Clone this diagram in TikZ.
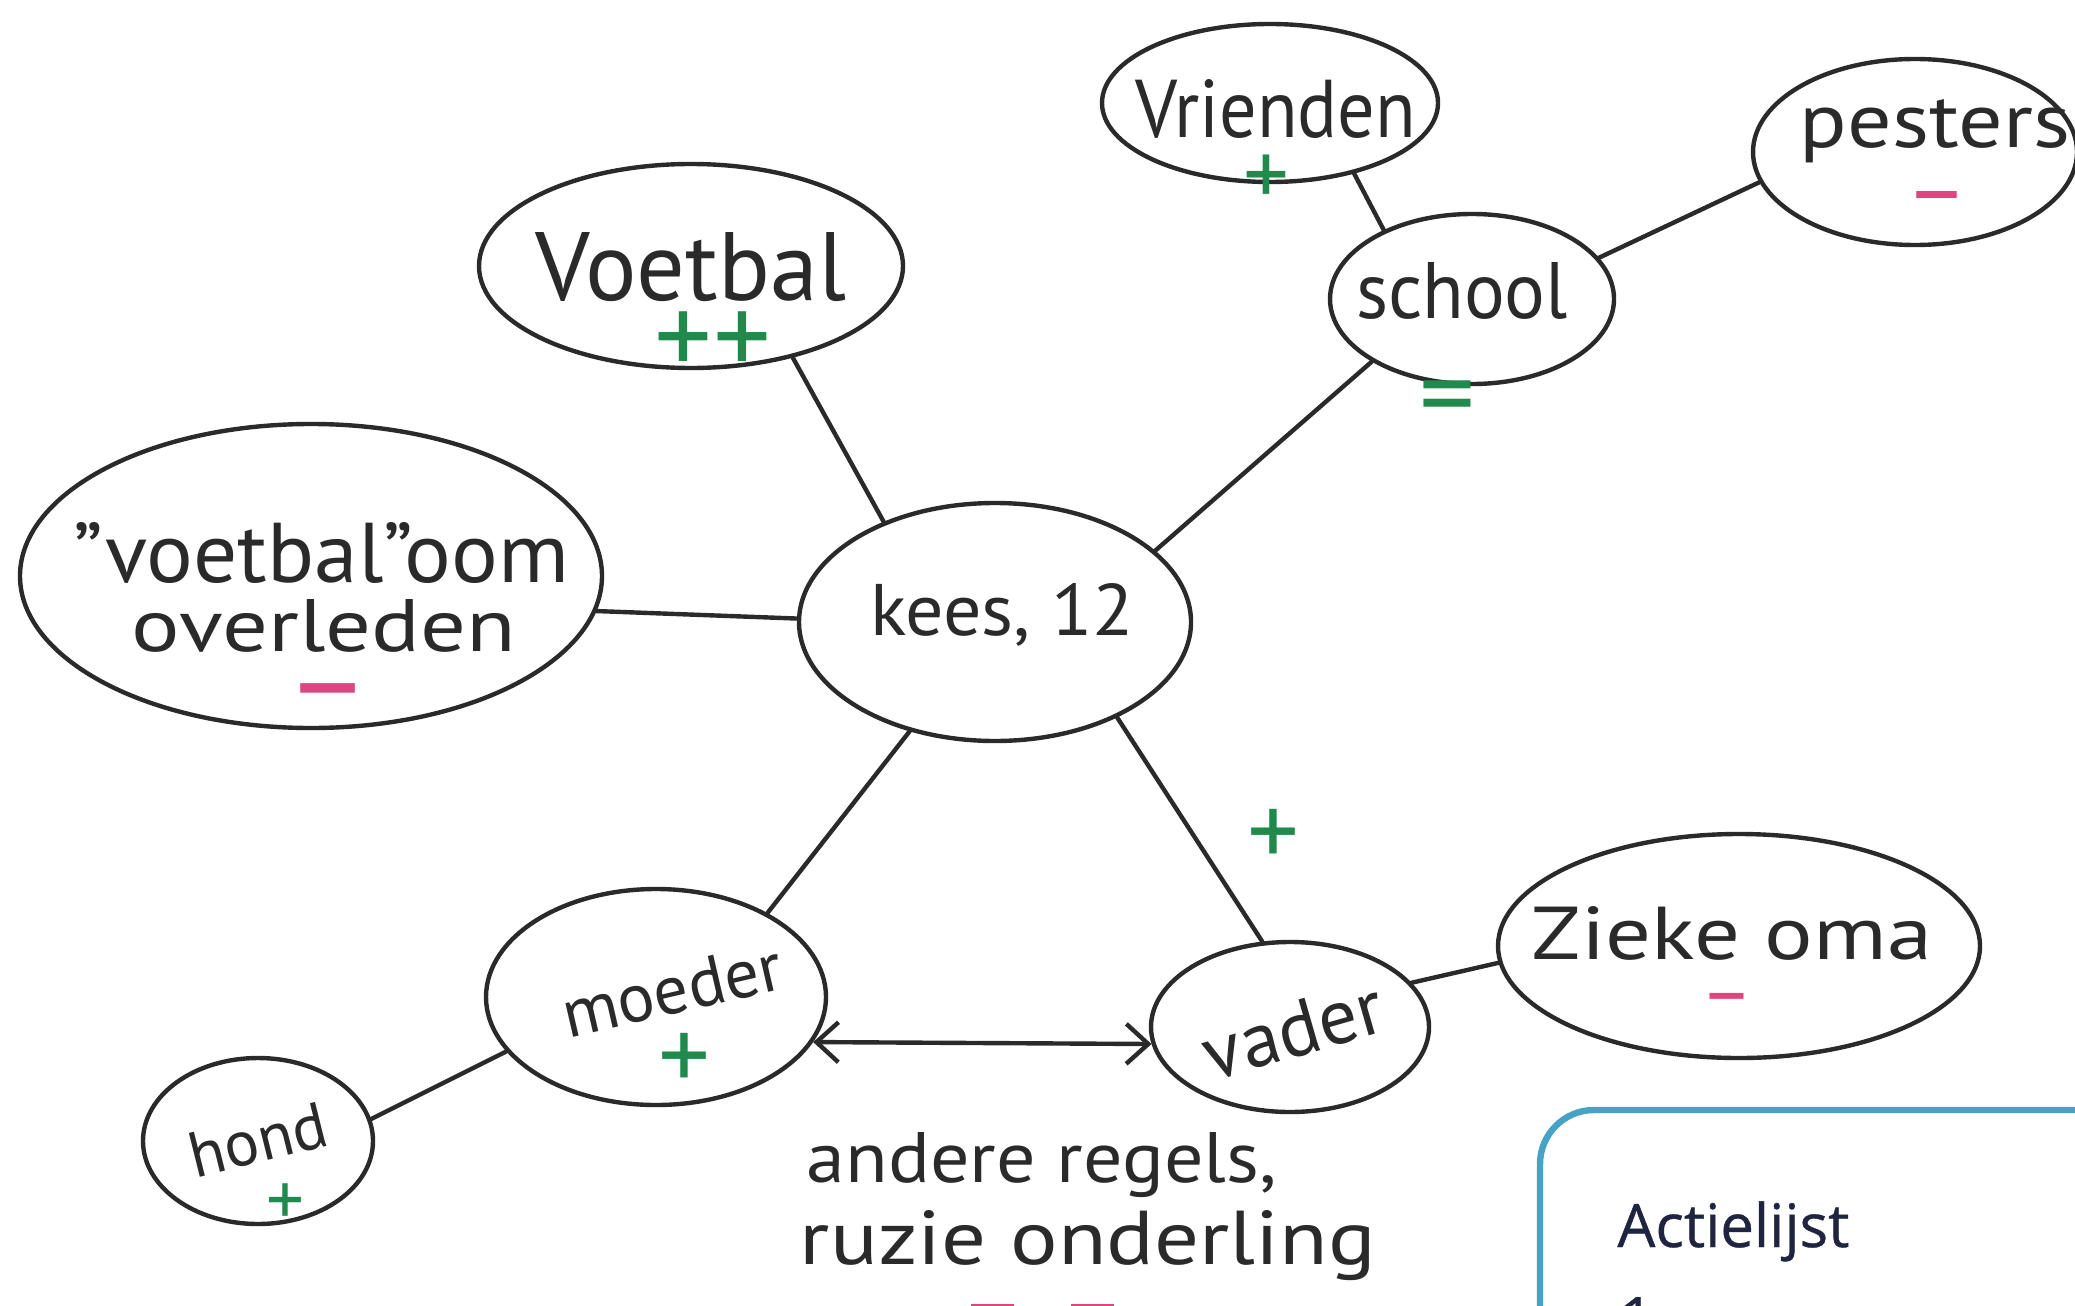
\documentclass[tikz,border=0pt]{standalone}
\usepackage{fontspec}
\setmainfont{PT Sans}
\newfontfamily\uifont[FakeBold=0.6]{Open Sans}
\usetikzlibrary{shapes.geometric,arrows.meta}
\definecolor{ink}{HTML}{2A2A2A}
\definecolor{pgreen}{HTML}{1F8A4C}
\definecolor{ppink}{HTML}{E0457F}
\definecolor{uiblue}{HTML}{47A3C6}
\definecolor{uinavy}{HTML}{1F2541}
\newcommand{\hw}[2]{\resizebox{#1pt}{!}{#2}}
\newcommand{\hwh}[3]{\resizebox{#1pt}{#2pt}{#3}}
\begin{document}
\begin{tikzpicture}[x=0.5pt,y=-0.5pt,
  bubble/.style={ellipse, draw=ink, line width=2.2pt, inner sep=0pt},
  link/.style={draw=ink, line width=2.2pt, line cap=round},
  twoway/.style={{Straight Barb[length=11pt,width=20pt]}-{Straight Barb[length=11pt,width=20pt]}},
  hand/.style={text=ink, inner sep=0pt, anchor=base},
  plusmark/.style={text=pgreen, inner sep=0pt},
  minusmark/.style={text=ppink, inner sep=0pt, anchor=base},
  uitext/.style={text=uinavy, anchor=base west, inner sep=0pt, font=\uifont\fontsize{30}{36}\selectfont}
]
\useasboundingbox (0,0) rectangle (2075,1305);
\clip (0,0) rectangle (2075,1305);

% bubbles
\node[bubble, minimum width=196pt, minimum height=119pt] (kees) at (995,622) {};
\node[bubble, minimum width=212pt, minimum height=102pt] (voetbal) at (691,266) {};
\node[bubble, minimum width=168pt, minimum height=79pt] (vrienden) at (1270,103) {};
\node[bubble, minimum width=162pt, minimum height=93pt] (pesters) at (1915,152) {};
\node[bubble, minimum width=142pt, minimum height=85pt] (school) at (1472,299) {};
\node[bubble, minimum width=291pt, minimum height=152pt] (oom) at (311,576) {};
\node[bubble, minimum width=170pt, minimum height=108pt] (moeder) at (656,997) {};
\node[bubble, minimum width=139pt, minimum height=85pt] (vader) at (1290,1027) {};
\node[bubble, minimum width=241pt, minimum height=112pt] (oma) at (1739,946) {};
\node[bubble, minimum width=115pt, minimum height=83pt] (hond) at (258,1141) {};

% texts
\node[hand] (keest) at (1002,635) {\hwh{132}{26}{kees, 12}};
\node[hand] (voetbalt) at (691,300) {\hwh{155}{34}{Voetbal}};
\node[plusmark] (voetbalp) at (713,344) {\hw{58}{++}};
\node[hand] (vriendent) at (1276,138) {\hwh{140}{29}{Vrienden}};
\node[plusmark] (vriendenp) at (1266,180) {\hw{23}{+}};
\node[hand] (pesterst) at (1935,148) {\hwh{135}{24}{pesters}};
\node[minusmark] (pestersm) at (1937,223) {\hw{31.5}{–}};
\node[hand] (schoolt) at (1462,318) {\hwh{106}{28}{school}};
\node[plusmark] (schoolq) at (1447,406) {\hw{28}{=}};
\node[hand] (oomta) at (321,582) {\hwh{248}{30}{"voetbal"oom}};
\node[hand] (oomtb) at (324,651) {\hwh{192}{26}{overleden}};
\node[minusmark] (oomm) at (328,725) {\hw{42.5}{–}};
\node[hand, anchor=center, rotate=13] (moedert) at (672,990) {\hw{112}{moeder}};
\node[plusmark] (moederp) at (684,1062) {\hw{26}{+}};
\node[hand, anchor=center, rotate=16] (vadert) at (1293,1030) {\hw{92}{vader}};
\node[plusmark] (keesvaderp) at (1273,838) {\hw{26}{+}};
\node[hand] (omat) at (1732,959) {\hwh{200}{26.5}{Zieke oma}};
\node[minusmark] (omam) at (1727,1019) {\hw{26.5}{–}};
\node[hand, anchor=center, rotate=14] (hondt) at (258,1140) {\hw{70}{hond}};
\node[plusmark] (hondp) at (285,1205) {\hw{19}{+}};
\node[hand] (regelsa) at (1042,1182) {\hwh{235}{25}{andere regels,}};
\node[hand] (regelsb) at (1088,1264) {\hwh{288}{27}{ruzie onderling}};
\node[minusmark] (regelsm1) at (993,1337) {\hw{33.5}{–}};
\node[minusmark] (regelsm2) at (1093,1337) {\hw{33.5}{–}};

% connectors
\draw[link] (voetbal.-42) -- (kees.138);
\draw[link] (oom.-7) -- (kees.179);
\draw[link] (kees.24) -- (school.212);
\draw[link] (school.142) -- (vrienden.-40);
\draw[link] (school.18) -- (pesters.191);
\draw[link] (kees.232) -- (moeder.37);
\draw[link] (kees.-38) -- (vader.108);
\draw[link, twoway] (moeder.-16) -- (vader.187);
\draw[link] (moeder.200) -- (hond.11);
\draw[link] (vader.20) -- (oma.184);

% action list panel
\draw[uiblue, line width=3.2pt, fill=white, rounded corners=27pt] (2200,1110) -- (1540,1110) -- (1540,1400);
\node[uitext] (actie) at (1617,1247) {Actielijst};
\node[uitext] (een) at (1619,1340) {1};
\end{tikzpicture}
\end{document}
